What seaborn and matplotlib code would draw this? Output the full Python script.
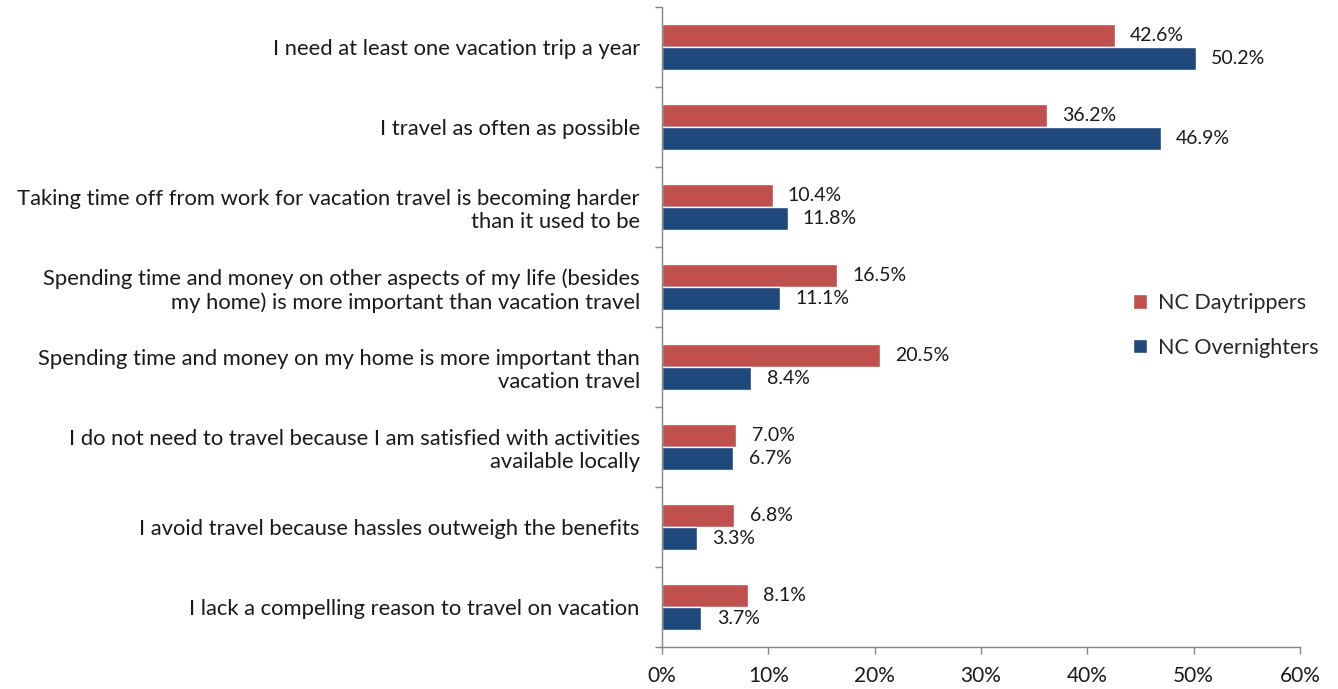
import matplotlib
matplotlib.use("Agg")
import matplotlib.pyplot as plt
from matplotlib.ticker import FixedLocator, PercentFormatter
import seaborn as sns
import pandas as pd
import numpy as np

statements = [
    "I need at least one vacation trip a year",
    "I travel as often as possible",
    "Taking time off from work for vacation travel is becoming harder\nthan it used to be",
    "Spending time and money on other aspects of my life (besides\nmy home) is more important than vacation travel",
    "Spending time and money on my home is more important than\nvacation travel",
    "I do not need to travel because I am satisfied with activities\navailable locally",
    "I avoid travel because hassles outweigh the benefits",
    "I lack a compelling reason to travel on vacation",
]
daytrippers = [42.6, 36.2, 10.4, 16.5, 20.5, 7.0, 6.8, 8.1]
overnighters = [50.2, 46.9, 11.8, 11.1, 8.4, 6.7, 3.3, 3.7]
groups = ["NC Daytrippers", "NC Overnighters"]
x_ticks = [0, 10, 20, 30, 40, 50, 60]

df = pd.DataFrame({
    "statement": statements * 2,
    "value": daytrippers + overnighters,
    "group": [groups[0]] * len(statements) + [groups[1]] * len(statements),
})

sns.set_style("white")
plt.rcParams["font.family"] = ["Lato", "DejaVu Sans"]
fs_cat = 15.8
fs_val = 14
fs_tick = 15
fs_leg = 15.5
txt = "#1a1a1a"

fig = plt.figure(figsize=(13.38, 6.89), dpi=100)
ax = fig.add_axes([0.4948, 0.061, 0.4768, 0.9288])

sns.barplot(data=df, y="statement", x="value", hue="group", order=statements,
            hue_order=groups, palette=["#C0504D", "#1F497D"], width=0.57,
            orient="h", ax=ax, legend=True, saturation=1)

for cont in ax.containers:
    ax.bar_label(cont, fmt="%.1f%%", padding=11, fontsize=fs_val, color=txt)

ax.set_xlim(0, 60)
ax.set_ylim(len(statements) - 0.5, -0.5)
ax.xaxis.set_major_locator(FixedLocator(x_ticks))
ax.xaxis.set_major_formatter(PercentFormatter(decimals=0))
ax.set_xlabel("")
ax.set_ylabel("")

# category labels at centres, tick marks at boundaries
ax.set_yticks(np.arange(len(statements)))
ax.set_yticklabels(statements, fontsize=fs_cat, color=txt, linespacing=1.2)
ax.tick_params(axis="y", which="major", length=0, pad=16)
ax.set_yticks(np.arange(len(statements) + 1) - 0.5, minor=True)
ax.tick_params(axis="y", which="minor", left=True, length=5, width=1, color="#868686", direction="out")
ax.tick_params(axis="x", which="major", bottom=True, length=5, width=1, color="#868686",
               direction="out", labelsize=fs_tick, labelcolor=txt, pad=9)

for side in ["top", "right"]:
    ax.spines[side].set_visible(False)
for side in ["left", "bottom"]:
    ax.spines[side].set_color("#868686")
    ax.spines[side].set_linewidth(1)

leg = ax.get_legend()
handles = leg.legend_handles
leg.remove()
fig.legend(handles, groups, loc="upper left", bbox_to_anchor=(0.832, 0.603),
           frameon=False, fontsize=fs_leg, handlelength=0.65, handleheight=0.65,
           handletextpad=0.55, labelspacing=1.15)

fig.savefig("out.png", dpi=100, facecolor="white")
